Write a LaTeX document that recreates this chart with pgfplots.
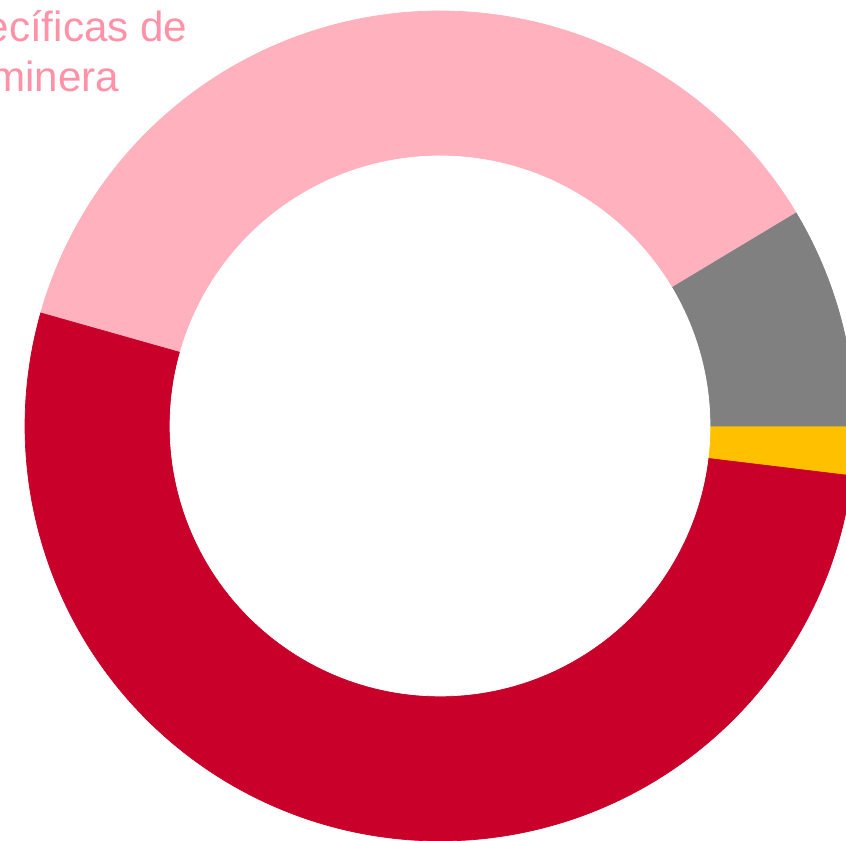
\documentclass[border=0pt]{standalone}
\usepackage{fontspec}
\setmainfont{Liberation Sans}
\usepackage{pgfplots}
\pgfplotsset{compat=1.18}
\definecolor{cred}{HTML}{C8002A}
\definecolor{cpink}{HTML}{FFB1BE}
\definecolor{cgray}{HTML}{808080}
\definecolor{cyellow}{HTML}{FFC000}
\definecolor{ctext}{HTML}{FF92A7}
\begin{document}
\begin{tikzpicture}
\useasboundingbox (0,0) rectangle (8.46,8.41);
\clip (0,0) rectangle (8.46,8.41);
\begin{axis}[at={(0,0)}, anchor=south west, scale only axis,
  width=8.46cm, height=8.41cm, hide axis, clip=false,
  xmin=-440, xmax=406, ymin=-415, ymax=426]
% segments: start angle, end angle (degrees); shares 1.9, 8.6, 37.0, 52.5 %
\addplot[fill=cyellow, draw=cyellow, line width=0.2pt, domain=-6.9:0, samples=20, variable=\t] ({415*cos(\t)},{415*sin(\t)}) -- (axis cs:0,0) -- cycle;
\addplot[fill=cgray, draw=cgray, line width=0.2pt, domain=0:31, samples=40, variable=\t] ({415*cos(\t)},{415*sin(\t)}) -- (axis cs:0,0) -- cycle;
\addplot[fill=cpink, draw=cpink, line width=0.2pt, domain=31:164.2, samples=120, variable=\t] ({415*cos(\t)},{415*sin(\t)}) -- (axis cs:0,0) -- cycle;
\addplot[fill=cred, draw=cred, line width=0.2pt, domain=164.2:353.1, samples=160, variable=\t] ({415*cos(\t)},{415*sin(\t)}) -- (axis cs:0,0) -- cycle;
\addplot[fill=white, draw=white, line width=0.2pt, domain=0:360, samples=240, variable=\t] ({270*cos(\t)},{270*sin(\t)}) -- cycle;
\node[anchor=base east, text=ctext, font=\fontsize{12}{14}\selectfont, inner sep=0pt] at (axis cs:-252,384) {Específicas de};
\node[anchor=base east, text=ctext, font=\fontsize{12}{14}\selectfont, inner sep=0pt] at (axis cs:-320,334) {la actividad minera};
\end{axis}
\end{tikzpicture}
\end{document}
